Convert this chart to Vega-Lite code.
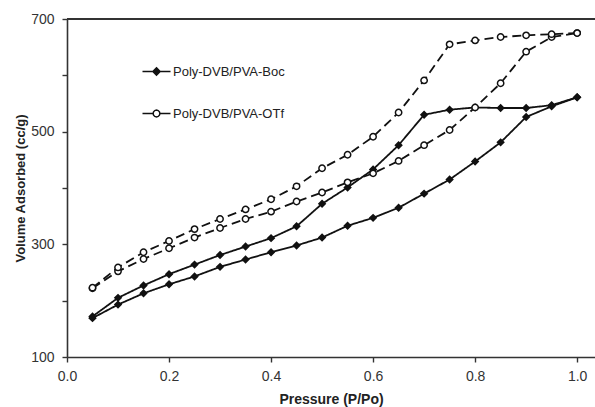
{
  "$schema": "https://vega.github.io/schema/vega-lite/v6.json",
  "width": 528,
  "height": 338,
  "autosize": "none",
  "padding": {"left": 67, "top": 19, "right": 0, "bottom": 50},
  "background": "white",
  "config": {
    "view": {"stroke": null},
    "font": "Liberation Sans",
    "axis": {"grid": false, "domainColor": "#333", "domainWidth": 1.6, "tickColor": "#333", "tickWidth": 1.4, "tickSize": 5, "labelFlush": false,
             "labelFont": "Liberation Sans", "labelFontSize": 14, "labelColor": "#333",
             "titleFont": "Liberation Sans", "titleFontWeight": "bold", "titleColor": "#222"}
  },
  "data": {"values": [
    {"p":0.05,"v":169,"series":"Poly-DVB/PVA-Boc","branch":"ads"},
    {"p":0.10,"v":193,"series":"Poly-DVB/PVA-Boc","branch":"ads"},
    {"p":0.15,"v":213,"series":"Poly-DVB/PVA-Boc","branch":"ads"},
    {"p":0.20,"v":229,"series":"Poly-DVB/PVA-Boc","branch":"ads"},
    {"p":0.25,"v":243,"series":"Poly-DVB/PVA-Boc","branch":"ads"},
    {"p":0.30,"v":260,"series":"Poly-DVB/PVA-Boc","branch":"ads"},
    {"p":0.35,"v":273,"series":"Poly-DVB/PVA-Boc","branch":"ads"},
    {"p":0.40,"v":286,"series":"Poly-DVB/PVA-Boc","branch":"ads"},
    {"p":0.45,"v":298,"series":"Poly-DVB/PVA-Boc","branch":"ads"},
    {"p":0.50,"v":312,"series":"Poly-DVB/PVA-Boc","branch":"ads"},
    {"p":0.55,"v":333,"series":"Poly-DVB/PVA-Boc","branch":"ads"},
    {"p":0.60,"v":347,"series":"Poly-DVB/PVA-Boc","branch":"ads"},
    {"p":0.65,"v":365,"series":"Poly-DVB/PVA-Boc","branch":"ads"},
    {"p":0.70,"v":390,"series":"Poly-DVB/PVA-Boc","branch":"ads"},
    {"p":0.75,"v":415,"series":"Poly-DVB/PVA-Boc","branch":"ads"},
    {"p":0.80,"v":447,"series":"Poly-DVB/PVA-Boc","branch":"ads"},
    {"p":0.85,"v":481,"series":"Poly-DVB/PVA-Boc","branch":"ads"},
    {"p":0.90,"v":526,"series":"Poly-DVB/PVA-Boc","branch":"ads"},
    {"p":0.95,"v":545,"series":"Poly-DVB/PVA-Boc","branch":"ads"},
    {"p":1.00,"v":561,"series":"Poly-DVB/PVA-Boc","branch":"ads"},
    {"p":0.05,"v":172,"series":"Poly-DVB/PVA-Boc","branch":"des"},
    {"p":0.10,"v":205,"series":"Poly-DVB/PVA-Boc","branch":"des"},
    {"p":0.15,"v":227,"series":"Poly-DVB/PVA-Boc","branch":"des"},
    {"p":0.20,"v":247,"series":"Poly-DVB/PVA-Boc","branch":"des"},
    {"p":0.25,"v":264,"series":"Poly-DVB/PVA-Boc","branch":"des"},
    {"p":0.30,"v":281,"series":"Poly-DVB/PVA-Boc","branch":"des"},
    {"p":0.35,"v":296,"series":"Poly-DVB/PVA-Boc","branch":"des"},
    {"p":0.40,"v":311,"series":"Poly-DVB/PVA-Boc","branch":"des"},
    {"p":0.45,"v":332,"series":"Poly-DVB/PVA-Boc","branch":"des"},
    {"p":0.50,"v":372,"series":"Poly-DVB/PVA-Boc","branch":"des"},
    {"p":0.55,"v":401,"series":"Poly-DVB/PVA-Boc","branch":"des"},
    {"p":0.60,"v":433,"series":"Poly-DVB/PVA-Boc","branch":"des"},
    {"p":0.65,"v":476,"series":"Poly-DVB/PVA-Boc","branch":"des"},
    {"p":0.70,"v":530,"series":"Poly-DVB/PVA-Boc","branch":"des"},
    {"p":0.75,"v":539,"series":"Poly-DVB/PVA-Boc","branch":"des"},
    {"p":0.80,"v":543,"series":"Poly-DVB/PVA-Boc","branch":"des"},
    {"p":0.85,"v":542,"series":"Poly-DVB/PVA-Boc","branch":"des"},
    {"p":0.90,"v":542,"series":"Poly-DVB/PVA-Boc","branch":"des"},
    {"p":0.95,"v":547,"series":"Poly-DVB/PVA-Boc","branch":"des"},
    {"p":1.00,"v":561,"series":"Poly-DVB/PVA-Boc","branch":"des"},
    {"p":0.05,"v":222,"series":"Poly-DVB/PVA-OTf","branch":"ads"},
    {"p":0.10,"v":252,"series":"Poly-DVB/PVA-OTf","branch":"ads"},
    {"p":0.15,"v":274,"series":"Poly-DVB/PVA-OTf","branch":"ads"},
    {"p":0.20,"v":293,"series":"Poly-DVB/PVA-OTf","branch":"ads"},
    {"p":0.25,"v":312,"series":"Poly-DVB/PVA-OTf","branch":"ads"},
    {"p":0.30,"v":329,"series":"Poly-DVB/PVA-OTf","branch":"ads"},
    {"p":0.35,"v":345,"series":"Poly-DVB/PVA-OTf","branch":"ads"},
    {"p":0.40,"v":358,"series":"Poly-DVB/PVA-OTf","branch":"ads"},
    {"p":0.45,"v":376,"series":"Poly-DVB/PVA-OTf","branch":"ads"},
    {"p":0.50,"v":392,"series":"Poly-DVB/PVA-OTf","branch":"ads"},
    {"p":0.55,"v":410,"series":"Poly-DVB/PVA-OTf","branch":"ads"},
    {"p":0.60,"v":426,"series":"Poly-DVB/PVA-OTf","branch":"ads"},
    {"p":0.65,"v":448,"series":"Poly-DVB/PVA-OTf","branch":"ads"},
    {"p":0.70,"v":476,"series":"Poly-DVB/PVA-OTf","branch":"ads"},
    {"p":0.75,"v":503,"series":"Poly-DVB/PVA-OTf","branch":"ads"},
    {"p":0.80,"v":543,"series":"Poly-DVB/PVA-OTf","branch":"ads"},
    {"p":0.85,"v":586,"series":"Poly-DVB/PVA-OTf","branch":"ads"},
    {"p":0.90,"v":642,"series":"Poly-DVB/PVA-OTf","branch":"ads"},
    {"p":0.95,"v":668,"series":"Poly-DVB/PVA-OTf","branch":"ads"},
    {"p":1.00,"v":675,"series":"Poly-DVB/PVA-OTf","branch":"ads"},
    {"p":0.05,"v":223,"series":"Poly-DVB/PVA-OTf","branch":"des"},
    {"p":0.10,"v":259,"series":"Poly-DVB/PVA-OTf","branch":"des"},
    {"p":0.15,"v":286,"series":"Poly-DVB/PVA-OTf","branch":"des"},
    {"p":0.20,"v":306,"series":"Poly-DVB/PVA-OTf","branch":"des"},
    {"p":0.25,"v":327,"series":"Poly-DVB/PVA-OTf","branch":"des"},
    {"p":0.30,"v":345,"series":"Poly-DVB/PVA-OTf","branch":"des"},
    {"p":0.35,"v":362,"series":"Poly-DVB/PVA-OTf","branch":"des"},
    {"p":0.40,"v":380,"series":"Poly-DVB/PVA-OTf","branch":"des"},
    {"p":0.45,"v":403,"series":"Poly-DVB/PVA-OTf","branch":"des"},
    {"p":0.50,"v":435,"series":"Poly-DVB/PVA-OTf","branch":"des"},
    {"p":0.55,"v":459,"series":"Poly-DVB/PVA-OTf","branch":"des"},
    {"p":0.60,"v":491,"series":"Poly-DVB/PVA-OTf","branch":"des"},
    {"p":0.65,"v":534,"series":"Poly-DVB/PVA-OTf","branch":"des"},
    {"p":0.70,"v":591,"series":"Poly-DVB/PVA-OTf","branch":"des"},
    {"p":0.75,"v":655,"series":"Poly-DVB/PVA-OTf","branch":"des"},
    {"p":0.80,"v":662,"series":"Poly-DVB/PVA-OTf","branch":"des"},
    {"p":0.85,"v":668,"series":"Poly-DVB/PVA-OTf","branch":"des"},
    {"p":0.90,"v":671,"series":"Poly-DVB/PVA-OTf","branch":"des"},
    {"p":0.95,"v":673,"series":"Poly-DVB/PVA-OTf","branch":"des"},
    {"p":1.00,"v":675,"series":"Poly-DVB/PVA-OTf","branch":"des"}
  ]},
  "encoding": {
    "x": {"field": "p", "type": "quantitative",
          "scale": {"domain": [0, 1.035], "nice": false, "zero": false},
          "axis": {"values": [0, 0.2, 0.4, 0.6, 0.8, 1.0], "format": ".1f", "title": "Pressure (P/Po)", "titleFontSize": 14, "labelPadding": 7, "titlePadding": 9}},
    "y": {"field": "v", "type": "quantitative",
          "scale": {"domain": [100, 700], "nice": false, "zero": false},
          "axis": {"values": [100, 200, 300, 400, 500, 600, 700], "labelExpr": "datum.value % 200 == 100 ? datum.label : ''", "title": "Volume Adsorbed (cc/g)", "titleFontSize": 13, "labelPadding": 8, "titlePadding": 3}}
  },
  "layer": [
    {
      "mark": {"type": "rule", "color": "#333", "strokeWidth": 1.6},
      "encoding": {"x": null, "y": {"datum": 700}}
    },
    {
      "mark": {"type": "line", "color": "#111", "strokeWidth": 1.8},
      "encoding": {
        "detail": [{"field": "series"}, {"field": "branch"}],
        "strokeDash": {"field": "series", "type": "nominal", "scale": {"range": [[1, 0], [9, 5]]}, "legend": null}
      }
    },
    {
      "mark": {"type": "point", "size": 40, "strokeWidth": 1.5, "stroke": "#111", "opacity": 1, "filled": false},
      "encoding": {
        "shape": {"field": "series", "type": "nominal", "scale": {"range": ["diamond", "circle"]}, "legend": null},
        "fill": {"field": "series", "type": "nominal", "scale": {"range": ["#111", "white"]}, "legend": null}
      }
    },
    {
      "transform": [{"filter": "datum.p > 5"}],
      "mark": {"type": "point", "strokeWidth": 1.6, "stroke": "#111", "opacity": 1, "filled": false},
      "encoding": {
        "shape": {"field": "series", "type": "nominal",
                  "scale": {"domain": ["Poly-DVB/PVA-Boc", "Poly-DVB/PVA-OTf"],
                            "range": ["M-3.5,0L3.5,0M0,-0.9L0.9,0L0,0.9L-0.9,0Z",
                                      "M-3.5,0L-0.85,0M0.85,0L3.5,0M0.85,0L0.736,0.425L0.425,0.736L0,0.85L-0.425,0.736L-0.736,0.425L-0.85,0L-0.736,-0.425L-0.425,-0.736L0,-0.85L0.425,-0.736L0.736,-0.425Z"]},
                  "legend": {"title": null, "orient": "none", "legendX": 83, "legendY": 46, "padding": 0,
                             "symbolSize": 64,
                             "labelFontSize": 13, "labelColor": "#222", "labelFont": "Liberation Sans", "labelOffset": 10, "rowPadding": 28,
                             "encode": {"symbols": {"stroke": {"value": "#111"}, "strokeWidth": {"value": 1.6}, "strokeOpacity": {"value": 1}, "opacity": {"value": 1}}}}},
        "fill": {"field": "series", "type": "nominal",
                 "scale": {"domain": ["Poly-DVB/PVA-Boc", "Poly-DVB/PVA-OTf"], "range": ["#111", "white"]},
                 "legend": {"title": null, "orient": "none", "legendX": 83, "legendY": 46, "padding": 0,
                             "symbolSize": 64,
                             "labelFontSize": 13, "labelColor": "#222", "labelFont": "Liberation Sans", "labelOffset": 10, "rowPadding": 28,
                             "encode": {"symbols": {"stroke": {"value": "#111"}, "strokeWidth": {"value": 1.6}, "strokeOpacity": {"value": 1}, "opacity": {"value": 1}}}}}
      }
    }
  ],
  "resolve": {"scale": {"shape": "independent", "fill": "independent"}}
}
